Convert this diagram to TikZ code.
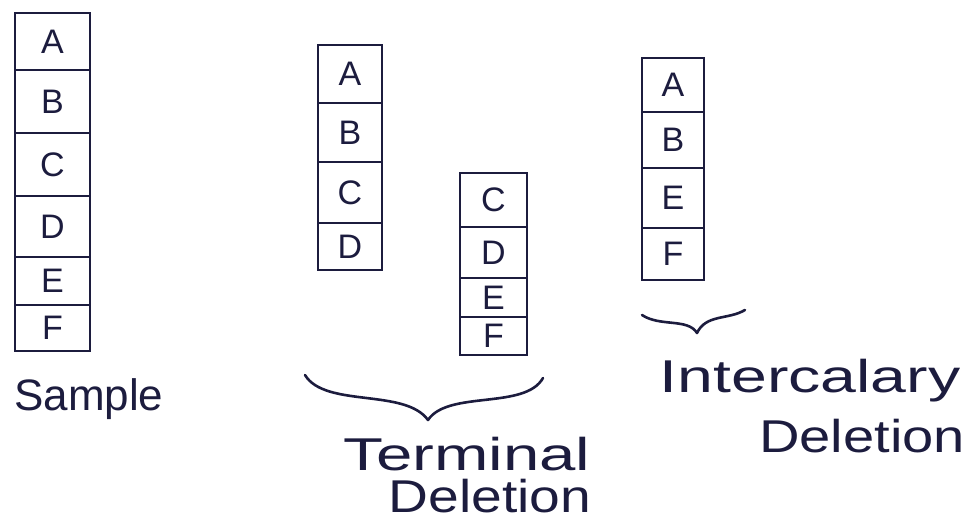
\documentclass[tikz,border=0pt]{standalone}
\usepackage{fontspec}
\setmainfont{Liberation Sans}
\begin{document}
\definecolor{ink}{RGB}{28,28,62}
\begin{tikzpicture}[x=1pt,y=-1pt,
  cellbox/.style={draw=ink,line width=2.8pt,inner sep=0pt,text=ink,
    font=\fontsize{34}{38}\selectfont},
  brace/.style={draw=ink,line width=2.6pt,line cap=round,line join=round},
  caption/.style={text=ink,anchor=base,inner sep=0pt,
    font=\fontsize{46}{52}\selectfont}]
\useasboundingbox (0,0) rectangle (972,528);
% #1 name, #2 left, #3 right, #4 top, #5 bottom, #6 letter
\newcommand\gcell[6]{%
  \node[cellbox,minimum width={(#3-#2)*1pt},minimum height={(#5-#4)*1pt}]
    (#1) at ({(#2+#3)/2},{(#4+#5)/2}) {#6};}
% sample chromosome
\gcell{sA}{15}{90}{13}{70}{A}
\gcell{sB}{15}{90}{70}{133}{B}
\gcell{sC}{15}{90}{133}{196}{C}
\gcell{sD}{15}{90}{196}{257}{D}
\gcell{sE}{15}{90}{257}{305}{E}
\gcell{sF}{15}{90}{305}{351}{F}
\node[caption,anchor=base west,font=\fontsize{44}{50}\selectfont] (sample) at (14,410) {Sample};
% terminal deletion: two pieces
\gcell{tA}{318}{382}{45}{103}{A}
\gcell{tB}{318}{382}{103}{162}{B}
\gcell{tC}{318}{382}{162}{223}{C}
\gcell{tD}{318}{382}{223}{270}{D}
\gcell{uC}{460}{527}{173}{227}{C}
\gcell{uD}{460}{527}{227}{278}{D}
\gcell{uE}{460}{527}{278}{317}{E}
\gcell{uF}{460}{527}{317}{355}{F}
\coordinate (b1l) at (305,375);
\coordinate (b1t) at (428,420);
\coordinate (b1r) at (543,378);
\draw[brace] (b1l) .. controls (325,408) and (405,388) .. (b1t)
             .. controls (448,390) and (525,410) .. (b1r);
\node[caption] (term) at (467,470) {\scalebox{1.42}[1]{Terminal}};
\node[caption] (tdel) at (490,512) {\scalebox{1.2}[1]{Deletion}};
% intercalary deletion
\gcell{iA}{642}{704}{58}{112}{A}
\gcell{iB}{642}{704}{112}{168}{B}
\gcell{iE}{642}{704}{168}{228}{E}
\gcell{iF}{642}{704}{228}{280}{F}
\coordinate (b2l) at (642,315);
\coordinate (b2t) at (697,333);
\coordinate (b2r) at (745,310);
\draw[brace] (b2l) .. controls (660,327) and (688,318) .. (b2t)
             .. controls (706,314) and (728,320) .. (b2r);
\node[caption] (inter) at (810,392) {\scalebox{1.4}[1]{Intercalary}};
\node[caption] (idel) at (862,452) {\scalebox{1.22}[1]{Deletion}};
\end{tikzpicture}
\end{document}
